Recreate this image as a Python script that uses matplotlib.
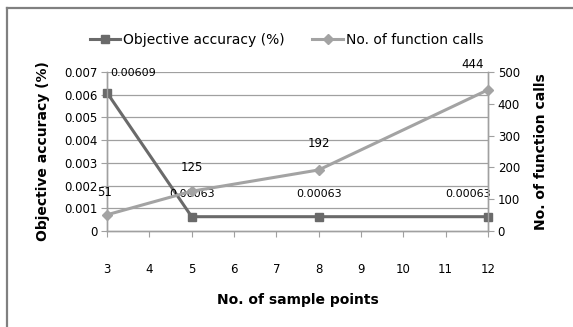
import matplotlib
matplotlib.use("Agg")
import matplotlib.pyplot as plt
from matplotlib.lines import Line2D

# data
sample_points = [3, 5, 8, 12]
accuracy = [0.00609, 0.00063, 0.00063, 0.00063]
accuracy_labels = ["0.00609", "0.00063", "0.00063", "0.00063"]
func_calls = [51, 125, 192, 444]
func_labels = ["51", "125", "192", "444"]
x_ticks = list(range(3, 13))
left_ticks = [0, 0.001, 0.002, 0.003, 0.004, 0.005, 0.006, 0.007]
left_tick_labels = ["0", "0.001", "0.002", "0.003", "0.004", "0.005", "0.006", "0.007"]
right_ticks = [0, 100, 200, 300, 400, 500]

DARK = "#6a6a6a"
LIGHT = "#a3a3a3"
GRID = "#a0a0a0"

plt.rcParams["font.family"] = ["DejaVu Sans"]

fig = plt.figure(figsize=(5.73, 3.27), dpi=100)
ax1 = fig.add_axes([107 / 573, 1 - 231 / 327, (488 - 107) / 573, (231 - 72) / 327])
ax2 = ax1.twinx()

# frame of the chart (only top and left edges show)
fig.add_artist(Line2D([7 / 573, 7 / 573], [0, 1 - 8 / 327], transform=fig.transFigure,
                      color="#808080", linewidth=1.6))
fig.add_artist(Line2D([7 / 573, 1], [1 - 8 / 327, 1 - 8 / 327], transform=fig.transFigure,
                      color="#808080", linewidth=1.6))

# grid
for t in left_ticks[1:]:
    ax1.axhline(t, color=GRID, linewidth=0.9, zorder=0)

l1, = ax1.plot(sample_points, accuracy, color=DARK, linewidth=2.2,
               marker="s", markersize=5.5, label="Objective accuracy (%)",
               zorder=3, clip_on=False)
l2, = ax2.plot(sample_points, func_calls, color=LIGHT, linewidth=2.2,
               marker="D", markersize=5, label="No. of function calls",
               zorder=3, clip_on=False)

ax1.set_xlim(3, 12)
ax1.set_ylim(0, 0.007)
ax2.set_ylim(0, 500)

ax1.set_xticks(x_ticks)
ax1.set_xticklabels([str(v) for v in x_ticks], fontsize=8.5)
ax1.set_yticks(left_ticks)
ax1.set_yticklabels(left_tick_labels, fontsize=8.5)
ax2.set_yticks(right_ticks)
ax2.set_yticklabels([str(v) for v in right_ticks], fontsize=8.5)

ax1.tick_params(axis="x", direction="out", length=4, color=GRID, pad=19)
ax1.tick_params(axis="y", direction="out", length=4, color=GRID, pad=3)
ax2.tick_params(axis="y", direction="out", length=4, color=GRID, pad=3)

for ax in (ax1, ax2):
    ax.spines["top"].set_visible(False)
    for s in ("left", "right", "bottom"):
        ax.spines[s].set_color(GRID)
        ax.spines[s].set_linewidth(1.0)

ax1.set_xlabel("No. of sample points", fontsize=10, fontweight="bold", labelpad=12)
ax1.set_ylabel("Objective accuracy (%)", fontsize=10, fontweight="bold", labelpad=10)
ax2.set_ylabel("No. of function calls", fontsize=10, fontweight="bold", labelpad=10)

# data labels
acc_offsets = [(19, 14), (0, 16), (0, 16), (-14, 16)]
for x, y, txt, off in zip(sample_points, accuracy, accuracy_labels, acc_offsets):
    ax1.annotate(txt, xy=(x, y), xytext=off, textcoords="offset points",
                 ha="center", va="center", fontsize=8)
call_offsets = [(-2, 16), (0, 17), (0, 19), (-11, 18)]
for x, y, txt, off in zip(sample_points, func_calls, func_labels, call_offsets):
    ax2.annotate(txt, xy=(x, y), xytext=off, textcoords="offset points",
                 ha="center", va="center", fontsize=8.5)

fig.legend(handles=[l1, l2], loc="center", bbox_to_anchor=(0.5, 1 - 40 / 327),
           ncol=2, frameon=False, fontsize=10, handlelength=2.2,
           columnspacing=2.0, handletextpad=0.2)

fig.savefig("out.png", dpi=100)
